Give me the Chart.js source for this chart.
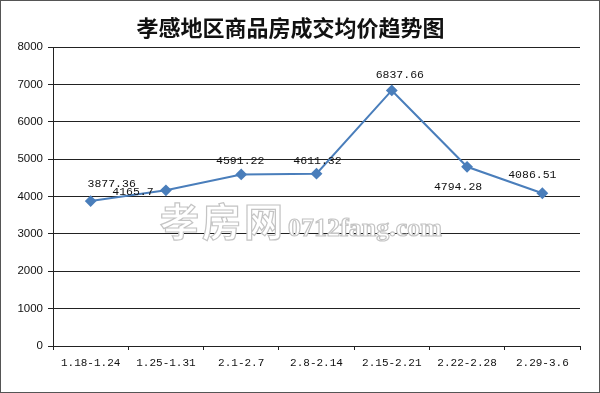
<!DOCTYPE html>
<html>
<head>
<meta charset="utf-8">
<script src="https://cdn.jsdelivr.net/npm/chart.js@4"></script>
<style>
  html, body { margin: 0; padding: 0; background: #fff; }
  #wrap {
    position: relative;
    width: 600px; height: 393px;
    box-sizing: border-box;
    border: 1px solid #555;
    background: #fff;
  }
  #mark {
    position: absolute; left: 159px; top: 190px;
    pointer-events: none; white-space: nowrap;
    color: #fff; -webkit-text-stroke: 1.2px #c4c4c4;
  }
  #mark .cn { font: bold 39px "Noto Sans CJK SC"; letter-spacing: 3px; }
  #mark .en { font: bold 26px "Liberation Serif"; margin-left: 2px; }
</style>
</head>
<body>
<div id="wrap">
  <canvas id="priceChart"></canvas>
  <div id="mark"><span class="cn">孝房网</span><span class="en">0712fang.com</span></div>
</div>
<script>
// 周期
const weeks = ['1.18-1.24', '1.25-1.31', '2.1-2.7', '2.8-2.14', '2.15-2.21', '2.22-2.28', '2.29-3.6'];
// 成交均价 (元/㎡)
const avgPrice = [3877.36, 4165.7, 4591.22, 4611.32, 6837.66, 4794.28, 4086.51];
const priceText = ['3877.36', '4165.7', '4591.22', '4611.32', '6837.66', '4794.28', '4086.51'];
// 数据标签相对点的偏移
const labelOffsets = [[21, -17], [-33, 2], [-1, -13], [1, -13], [8, -15], [-9, 20], [-10, -18]];

const lineColor = '#4a7ebb';

const valueLabels = {
    id: 'valueLabels',
    afterDatasetsDraw(chart) {
        const ctx = chart.ctx;
        const meta = chart.getDatasetMeta(0);
        ctx.save();
        ctx.font = '11.5px "Liberation Mono"';
        ctx.fillStyle = '#111';
        ctx.textAlign = 'center';
        ctx.textBaseline = 'middle';
        meta.data.forEach(function(pt, i) {
            const off = labelOffsets[i];
            ctx.fillText(priceText[i], pt.x + off[0], pt.y + off[1]);
        });
        ctx.restore();
    }
};

const priceConfig = {
    type: 'line',
    data: {
        labels: weeks,
        datasets: [{
            label: '成交均价',
            data: avgPrice,
            borderColor: lineColor,
            borderWidth: 2,
            fill: false,
            tension: 0,
            pointStyle: 'rectRot',
            pointRadius: 4.5,
            pointBackgroundColor: lineColor,
            pointBorderColor: lineColor
        }]
    },
    options: {
        responsive: true,
        maintainAspectRatio: false,
        animation: false,
        layout: { padding: { left: 0, right: 19, top: 0, bottom: 0 } },
        scales: {
            x: {
                offset: true,
                grid: {
                    display: true,
                    offset: true,
                    drawOnChartArea: false,
                    drawTicks: true,
                    tickLength: 4,
                    color: '#222'
                },
                border: { display: true, color: '#222', width: 1 },
                ticks: {
                    color: '#111',
                    font: { family: 'Liberation Mono', size: 11 },
                    padding: 6,
                    maxRotation: 0,
                    autoSkip: false
                },
                afterFit: function(scale) { scale.height = 46; }
            },
            y: {
                min: 0,
                max: 8000,
                grid: {
                    color: '#222',
                    drawTicks: true,
                    tickLength: 5
                },
                border: { display: true, color: '#222', width: 1 },
                ticks: {
                    stepSize: 1000,
                    color: '#111',
                    font: { family: 'Liberation Sans', size: 11.5 },
                    padding: 5,
                    callback: function(value) { return String(value); }
                },
                afterFit: function(scale) { scale.width = 52; }
            }
        },
        plugins: {
            legend: { display: false },
            tooltip: { enabled: false },
            title: {
                display: true,
                text: '孝感地区商品房成交均价趋势图',
                color: '#111',
                font: { family: 'Noto Sans CJK SC', size: 22, weight: 'bold', lineHeight: 1.2 },
                padding: { top: 13, bottom: 6.6 }
            }
        }
    },
    plugins: [valueLabels]
};

const priceChart = new Chart(
    document.getElementById('priceChart'),
    priceConfig
);
</script>
</body>
</html>
